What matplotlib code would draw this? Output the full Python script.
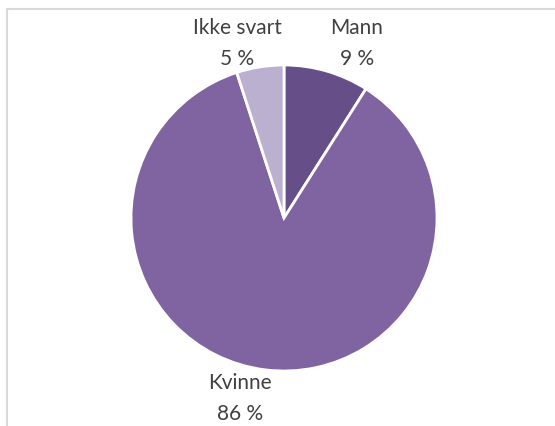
import matplotlib
matplotlib.use("Agg")
from matplotlib import pyplot as plt
from matplotlib.patches import Rectangle

labels = ["Mann", "Kvinne", "Ikke svart"]
values = [9, 86, 5]
colors = ["#664F88", "#8064A2", "#BBB0D0"]

# label anchor points in pie units (radius = 1)
label_pos = [(0.477, 1.14), (-0.288, -1.18), (-0.307, 1.14)]

W, H = 555, 426
fig = plt.figure(figsize=(W / 100, H / 100), dpi=100)

# light grey chart frame, only left and top edges fall inside the image
fig.patches.append(Rectangle((7 / W, -0.1), 1.2, 1 - 9 / H + 0.1,
                             transform=fig.transFigure, fill=False,
                             edgecolor="#D9D9D9", linewidth=1.5))

cx, cy, r = 284, 218, 153
ax = fig.add_axes([(cx - r) / W, (H - cy - r) / H, 2 * r / W, 2 * r / H])
ax.pie(values, colors=colors, startangle=90, counterclock=False,
       radius=1, wedgeprops=dict(edgecolor="white", linewidth=2))
ax.set_xlim(-1, 1)
ax.set_ylim(-1, 1)
ax.set_aspect("equal")
ax.axis("off")

for lab, v, (x, y) in zip(labels, values, label_pos):
    ax.text(x, y, "{}\n{} %".format(lab, v), ha="center", va="center",
            fontsize=15, color="#404040", family="Lato", linespacing=1.7,
            clip_on=False)

fig.savefig("out.png", dpi=100)
